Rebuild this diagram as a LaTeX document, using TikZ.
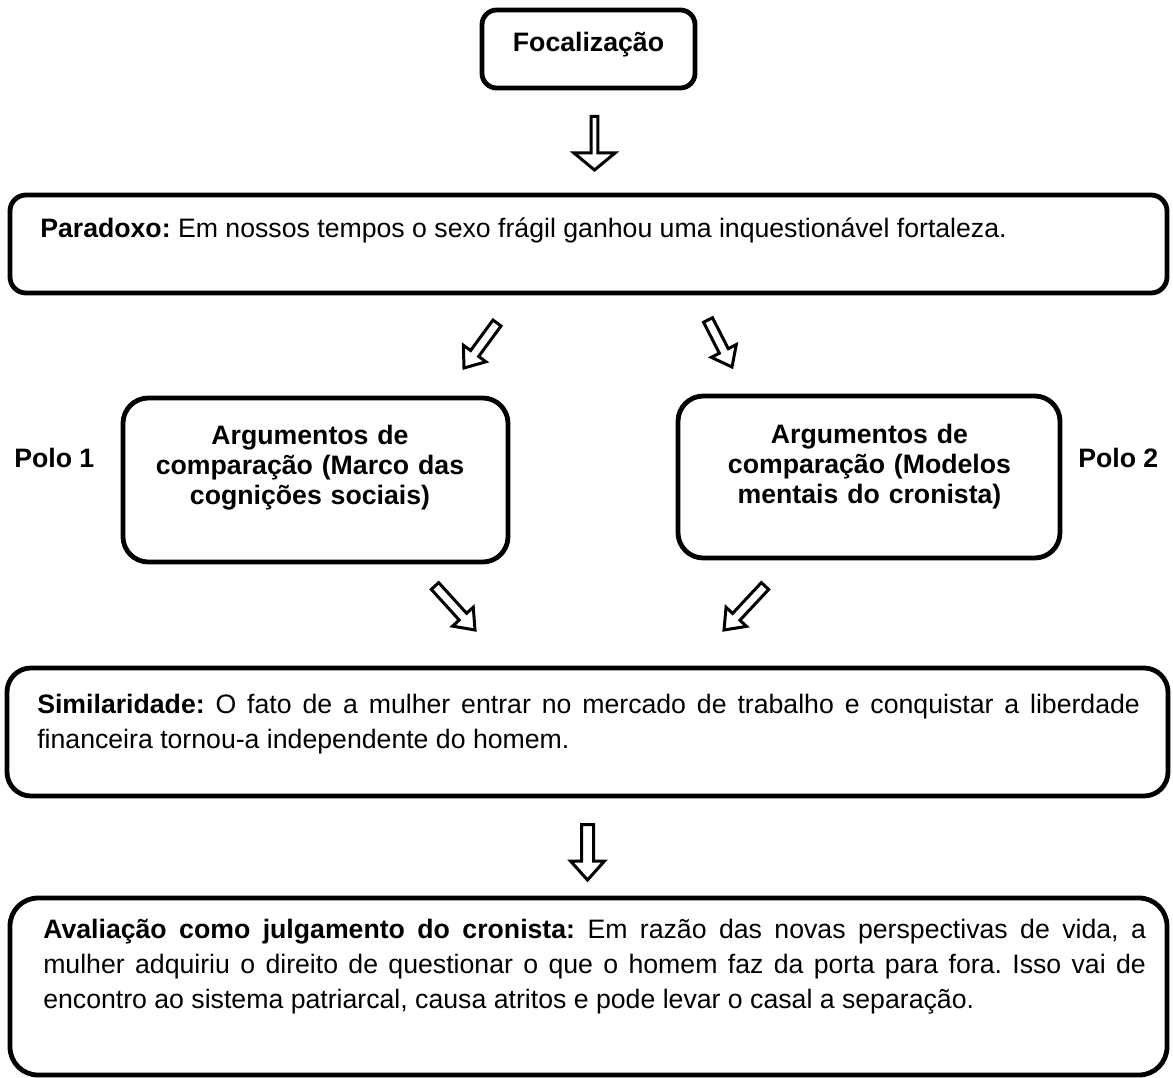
\documentclass[tikz,border=0pt]{standalone}
\usepackage{fontspec}
\setmainfont{Liberation Sans}
\usetikzlibrary{calc,fit}
\frenchspacing

% hollow block arrow from #1 (tail) to #2 (tip):
% #3 half shaft width, #4 half head width, #5 head length
\newcommand{\blockarrow}[5]{%
  \coordinate (ba-base) at ($(#2)!#5!(#1)$);
  \draw[arrowbody]
    ($(#1)!#3!90:(#2)$) -- ($(ba-base)!#3!90:(#2)$) -- ($(ba-base)!#4!90:(#2)$)
    -- (#2)
    -- ($(ba-base)!#4!-90:(#2)$) -- ($(ba-base)!#3!-90:(#2)$) -- ($(#1)!#3!-90:(#2)$)
    -- cycle;
}

\tikzset{
  roundbox/.style={draw=black, line width=3.6pt, rounded corners=#1, inner sep=0pt},
  arrowbody/.style={draw=black, fill=white, line width=2.25pt, line join=miter},
  bodytext/.style={inner sep=0pt, font=\fontsize{20}{26.6}\selectfont},
  polotext/.style={inner sep=0pt, font=\bfseries\fontsize{20}{22.6}\selectfont,
    text width=260pt, align=center, anchor=base},
}

\begin{document}
\begin{tikzpicture}[x=0.75pt,y=-0.75pt]
\useasboundingbox (0,0) rectangle (1173,1077);

% boxes
\node[roundbox=11pt, fit={(482,10) (695,88)}] (foc) {};
\node[roundbox=12pt, fit={(10,195) (1167,293)}] (para) {};
\node[roundbox=19pt, fit={(123,398) (508,562)}] (polo1box) {};
\node[roundbox=19pt, fit={(678,396) (1060,558)}] (polo2box) {};
\node[roundbox=18pt, fit={(7,668) (1168,796)}] (sim) {};
\node[roundbox=21pt, fit={(10,898) (1167,1075)}] (aval) {};

% texts
\node[bodytext, anchor=base, font=\bfseries\fontsize{20}{26.6}\selectfont] (foctext) at (588.5,52) {Focalização};
\node[bodytext, anchor=base west] (paratext) at (40,237)
  {\textbf{Paradoxo:} Em nossos tempos o sexo frágil ganhou uma inquestionável fortaleza.};
\node[polotext] (polo1text) at (310,444)
  {Argumentos de\\comparação (Marco das\\cognições sociais)};
\node[polotext] (polo2text) at (869.5,443)
  {Argumentos de\\comparação (Modelos\\mentais do cronista)};
\node[bodytext, anchor=base west, font=\bfseries\fontsize{20}{26.6}\selectfont] (polo1) at (14,467) {Polo 1};
\node[bodytext, anchor=base west, font=\bfseries\fontsize{20}{26.6}\selectfont] (polo2) at (1078,467) {Polo 2};
\node[bodytext, anchor=base west, text width=827pt, align=justify] (simtext) at (37,713)
  {\textbf{Similaridade:} O fato de a mulher entrar no mercado de trabalho e conquistar a liberdade\linebreak
   financeira tornou-a independente do homem.};
\node[bodytext, anchor=base west, text width=827pt, align=justify] (avaltext) at (43,938)
  {\textbf{Avaliação como julgamento do cronista:} Em razão das novas perspectivas de vida, a\linebreak
   mulher adquiriu o direito de questionar o que o homem faz da porta para fora. Isso vai de\linebreak
   encontro ao sistema patriarcal, causa atritos e pode levar o casal a separação.};

% arrow ends
\coordinate (a1s) at (594.5,116.5);  \coordinate (a1e) at (594.5,170);
\coordinate (a2s) at (497,323);      \coordinate (a2e) at (464,368);
\coordinate (a3s) at (708,320);      \coordinate (a3e) at (732,367);
\coordinate (a4s) at (435,586);      \coordinate (a4e) at (475,630);
\coordinate (a5s) at (765,586);      \coordinate (a5e) at (724,630);
\coordinate (a6s) at (587.5,824.5);  \coordinate (a6e) at (587.5,880);

% hollow arrows
\blockarrow{a1s}{a1e}{2.6pt}{15.4pt}{12.75pt}
\blockarrow{a2s}{a2e}{3.75pt}{10.5pt}{13.5pt}
\blockarrow{a3s}{a3e}{3.75pt}{10.5pt}{13.5pt}
\blockarrow{a4s}{a4e}{3.75pt}{10.5pt}{13.5pt}
\blockarrow{a5s}{a5e}{3.75pt}{10.5pt}{13.5pt}
\blockarrow{a6s}{a6e}{4.5pt}{12.75pt}{14.25pt}
\end{tikzpicture}
\end{document}
